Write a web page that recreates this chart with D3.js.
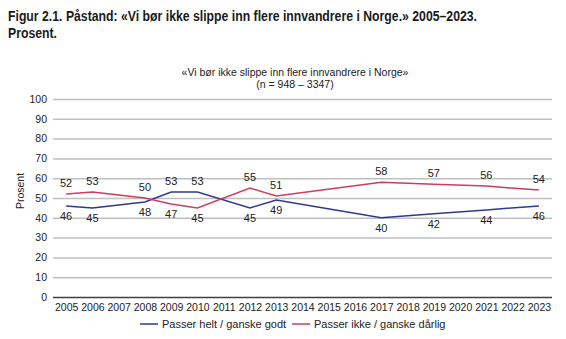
<!DOCTYPE html>
<meta charset="utf-8">
<style>
body { margin: 0; background: #fff; }
text { font-family: "Liberation Sans", Arial, sans-serif; }
.grid line { stroke: #bfbfbf; stroke-width: 1.5; }
.grid .domain { display: none; }
.axis .domain { display: none; }
.axis line { display: none; }
</style>
<svg width="566" height="339"></svg>
<script src="https://cdn.jsdelivr.net/npm/d3@7"></script>
<script>

// all category labels on the x axis
var years = ["2005", "2006", "2007", "2008", "2009", "2010", "2011", "2012", "2013", "2014",
             "2015", "2016", "2017", "2018", "2019", "2020", "2021", "2022", "2023"];

// survey years with data
var surveyYears = ["2005", "2006", "2008", "2009", "2010", "2012", "2013", "2017", "2019", "2021", "2023"];
var passerGodt  = [46, 45, 48, 53, 53, 45, 49, 40, 42, 44, 46];
var passerIkke  = [52, 53, 50, 47, 45, 55, 51, 58, 57, 56, 54];

var yTicks = [0, 10, 20, 30, 40, 50, 60, 70, 80, 90, 100];

var series = [
  {name: "Passer helt / ganske godt", values: passerGodt, color: "#2e3a8c"},
  {name: "Passer ikke / ganske dårlig", values: passerIkke, color: "#cc3d5f"}
];

var svg = d3.select("svg"),
    margin = {top: 99, right: 14, bottom: 42, left: 53},
    width = +svg.attr("width") - margin.left - margin.right,
    height = +svg.attr("height") - margin.top - margin.bottom,
    g = svg.append("g").attr("transform", "translate(" + margin.left + "," + margin.top + ")");

var x = d3.scalePoint().domain(years).range([0, width]).padding(0.5);
var y = d3.scaleLinear().domain([0, 100]).range([height, 0]);

// title (the original font is a bit narrower, so squeeze it)
svg.append("text")
    .attr("x", 8).attr("y", 21)
    .attr("font-size", 14).attr("font-weight", "bold").attr("fill", "#1a1a1a")
    .attr("textLength", 469).attr("lengthAdjust", "spacingAndGlyphs")
    .text("Figur 2.1. Påstand: «Vi bør ikke slippe inn flere innvandrere i Norge.» 2005–2023.");
svg.append("text")
    .attr("x", 8).attr("y", 38)
    .attr("font-size", 14).attr("font-weight", "bold").attr("fill", "#1a1a1a")
    .attr("textLength", 49).attr("lengthAdjust", "spacingAndGlyphs")
    .text("Prosent.");

// chart subtitle
svg.append("text")
    .attr("x", 295).attr("y", 76)
    .attr("text-anchor", "middle").attr("font-size", 10.5).attr("fill", "#222")
    .text("«Vi bør ikke slippe inn flere innvandrere i Norge»");
svg.append("text")
    .attr("x", 295).attr("y", 88)
    .attr("text-anchor", "middle").attr("font-size", 10.5).attr("fill", "#222")
    .text("(n = 948 – 3347)");

// gridlines
g.append("g")
    .attr("class", "grid")
    .call(d3.axisLeft(y).tickValues(yTicks).tickSize(-width).tickFormat(""))
  .selectAll("line")
    .filter(function(d) { return d === 0; })
    .style("stroke", "#404040");

// y axis labels
g.append("g")
    .attr("class", "axis")
    .call(d3.axisLeft(y).tickValues(yTicks).tickSize(0).tickPadding(6))
  .selectAll("text")
    .attr("font-size", 10.5).attr("fill", "#222");

// x axis labels
g.append("g")
    .attr("class", "axis")
    .attr("transform", "translate(0," + height + ")")
    .call(d3.axisBottom(x).tickSize(0).tickPadding(7))
  .selectAll("text")
    .attr("font-size", 10.5).attr("fill", "#222");

svg.append("text")
    .attr("transform", "translate(24," + 191 + ") rotate(-90)")
    .attr("text-anchor", "middle").attr("font-size", 10.5).attr("fill", "#222")
    .text("Prosent");

var line = d3.line()
    .x(function(d, i) { return x(surveyYears[i]); })
    .y(function(d) { return y(d); });

g.selectAll(".series")
  .data(series)
  .enter().append("path")
    .attr("fill", "none")
    .attr("stroke", function(d) { return d.color; })
    .attr("stroke-width", 1.5)
    .attr("d", function(d) { return line(d.values); });

// data labels: higher value above the line, lower below
series.forEach(function(s, si) {
  var other = series[1 - si];
  g.append("g").selectAll("text")
    .data(s.values)
    .enter().append("text")
      .attr("x", function(d, i) { return x(surveyYears[i]); })
      .attr("y", function(d, i) {
        return d >= other.values[i] ? y(d) - 11 : y(d) + 10;
      })
      .attr("dy", "0.35em")
      .attr("text-anchor", "middle")
      .attr("font-size", 11).attr("fill", "#222")
      .text(function(d) { return d; });
});

// legend
var legendPos = [140, 292];
var legend = svg.selectAll(".legend")
  .data(series)
  .enter().append("g")
    .attr("transform", function(d, i) { return "translate(" + legendPos[i] + ",324)"; });

legend.append("line")
    .attr("x1", 0).attr("x2", 18)
    .attr("stroke", function(d) { return d.color; })
    .attr("stroke-width", 1.5);

legend.append("text")
    .attr("x", 22).attr("dy", "0.35em")
    .attr("font-size", 11).attr("fill", "#222")
    .text(function(d) { return d.name; });

</script>
